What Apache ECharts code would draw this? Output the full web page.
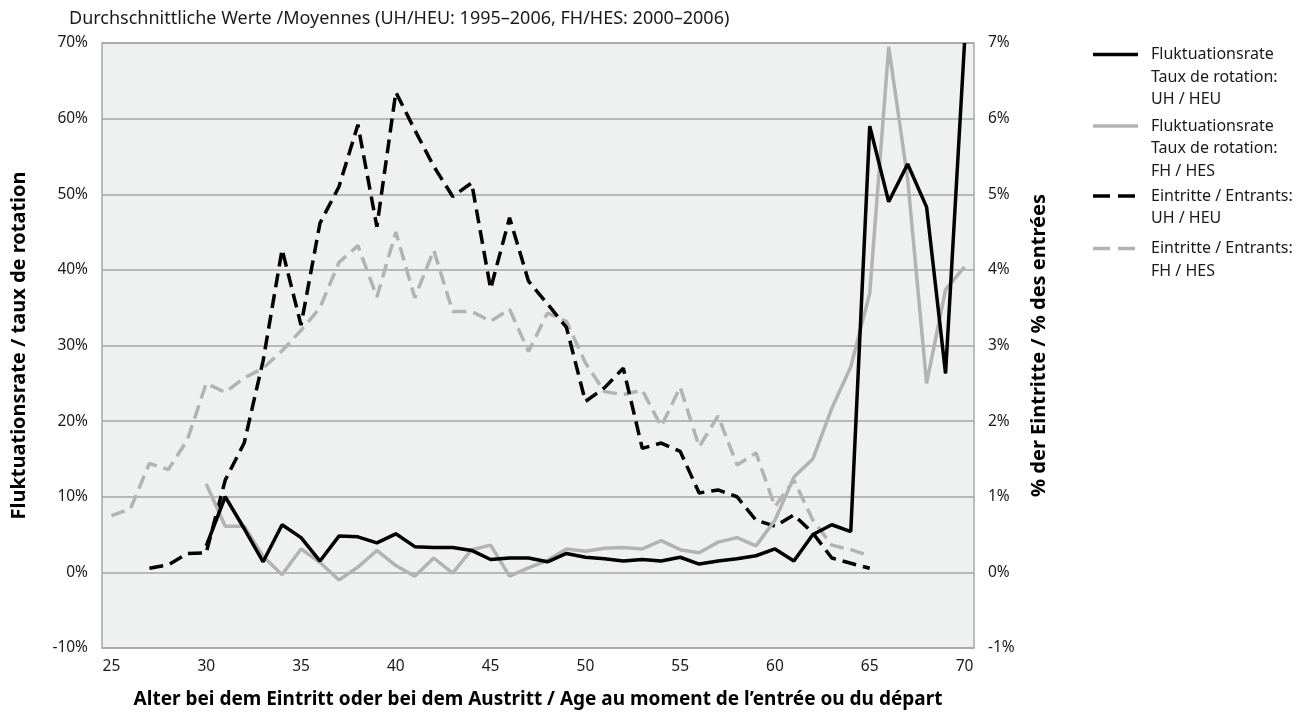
<!DOCTYPE html>
<html>
<head>
<meta charset="utf-8">
<script src="https://cdn.jsdelivr.net/npm/echarts@6/dist/echarts.min.js"></script>
<style>
  html, body { margin: 0; padding: 0; background: #fff; }
  #chart { width: 1304px; height: 722px; }
</style>
</head>
<body>
<div id="chart"></div>
<script>
// Alter (Kategorien)
const ages = ['25','26','27','28','29','30','31','32','33','34','35','36','37','38','39','40',
  '41','42','43','44','45','46','47','48','49','50','51','52','53','54','55','56','57','58','59','60',
  '61','62','63','64','65','66','67','68','69','70'];

// Fluktuationsrate UH / HEU (linke Achse, %)
const uhTurnover = [null, null, null, null, null,
  3.5, 10.0, 5.8, 1.4, 6.3, 4.6, 1.5, 4.8, 4.7, 3.9, 5.1,
  3.4, 3.3, 3.3, 2.9, 1.7, 1.9, 1.9, 1.4, 2.5, 2.0,
  1.8, 1.5, 1.7, 1.5, 2.0, 1.1, 1.5, 1.8, 2.2, 3.1,
  1.5, 5.0, 6.3, 5.4, 59.0, 49.0, 54.0, 48.3, 26.3, 70.0];

// Fluktuationsrate FH / HES (linke Achse, %)
const fhTurnover = [null, null, null, null, null,
  11.7, 6.1, 6.1, 2.1, -0.3, 3.1, 1.3, -1.0, 0.7, 2.9, 0.9,
  -0.5, 1.9, -0.1, 3.0, 3.6, -0.5, 0.6, 1.6, 3.1, 2.8,
  3.2, 3.3, 3.1, 4.2, 3.0, 2.6, 4.0, 4.6, 3.5, 6.9,
  12.6, 15.0, 21.7, 27.2, 36.9, 69.5, 52.0, 25.0, 37.4, 40.4];

// Eintritte UH / HEU (rechte Achse, %)
const uhEntrants = [null, null, 0.055, 0.10, 0.25,
  0.26, 1.22, 1.71, 2.80, 4.27, 3.27, 4.62, 5.10, 5.92, 4.57, 6.35,
  5.85, 5.37, 4.97, 5.15, 3.75, 4.69, 3.85, 3.55, 3.24, 2.26,
  2.44, 2.70, 1.64, 1.71, 1.60, 1.05, 1.09, 1.00, 0.69, 0.61,
  0.76, 0.52, 0.19, 0.12, 0.055, null, null, null, null, null];

// Eintritte FH / HES (rechte Achse, %)
const fhEntrants = [0.75, 0.84, 1.44, 1.36, 1.75,
  2.50, 2.38, 2.57, 2.70, 2.93, 3.20, 3.50, 4.10, 4.32, 3.64, 4.50,
  3.63, 4.26, 3.45, 3.45, 3.32, 3.48, 2.92, 3.43, 3.32, 2.77,
  2.39, 2.35, 2.41, 1.93, 2.45, 1.66, 2.07, 1.42, 1.58, 0.87,
  1.22, 0.69, 0.36, 0.30, 0.22, null, null, null, null, null];

const yLeftTicks = { min: -10, max: 70, step: 10 };
const yRightTicks = { min: -1, max: 7, step: 1 };

const names = [
  'Fluktuationsrate\nTaux de rotation:\nUH / HEU',
  'Fluktuationsrate\nTaux de rotation:\nFH / HES',
  'Eintritte / Entrants:\nUH / HEU',
  'Eintritte / Entrants:\nFH / HES'
];

const FONT = 'Noto Sans';
const LH = 22.5;
const GRAY = '#b3b3b3';
const DASH = [14, 7];

// Legende rechts: Linienmuster auf Höhe der ersten Textzeile
const legendRows = [
  { name: names[0], y: 54.5, color: '#000', dash: null },
  { name: names[1], y: 126, color: GRAY, dash: null },
  { name: names[2], y: 196, color: '#000', dash: [17, 8] },
  { name: names[3], y: 248.5, color: GRAY, dash: [17, 8] }
];
const legendGraphic = [];
legendRows.forEach(r => {
  legendGraphic.push({
    type: 'line', silent: true,
    shape: { x1: 1093, y1: r.y, x2: 1138, y2: r.y },
    style: { stroke: r.color, lineWidth: 3.5, lineDash: r.dash }
  });
  legendGraphic.push({
    type: 'text', silent: true,
    x: 1151, y: r.y - LH / 2,
    style: {
      text: r.name, fill: '#1a1a1a', font: '16px "' + FONT + '"',
      lineHeight: LH, verticalAlign: 'top', align: 'left'
    }
  });
});

const chart = echarts.init(document.getElementById('chart'));
const option = {
  backgroundColor: '#fff',
  animation: false,
  title: {
    text: 'Durchschnittliche Werte /Moyennes (UH/HEU: 1995–2006, FH/HES: 2000–2006)',
    left: 69, top: 10, padding: 0,
    textStyle: { fontFamily: FONT, fontSize: 18, fontWeight: 'normal', color: '#1a1a1a' }
  },
  graphic: legendGraphic,
  grid: {
    left: 102, right: 330, top: 43, bottom: 74,
    show: true, backgroundColor: '#eff0f0', borderColor: '#a6a6a6', borderWidth: 1.5
  },
  xAxis: {
    type: 'category',
    data: ages,
    boundaryGap: true,
    name: 'Alter bei dem Eintritt oder bei dem Austritt / Age au moment de l’entrée ou du départ',
    nameLocation: 'middle',
    nameGap: 42,
    nameTextStyle: { fontFamily: FONT, fontSize: 19, fontWeight: 'bold', color: '#000' },
    axisLine: { show: false },
    axisTick: { show: false },
    axisLabel: { interval: 4, margin: 11, fontFamily: FONT, fontSize: 15.5, color: '#1a1a1a' },
    splitLine: { show: false }
  },
  yAxis: [
    {
      type: 'value',
      min: yLeftTicks.min, max: yLeftTicks.max, interval: yLeftTicks.step,
      name: 'Fluktuationsrate / taux de rotation',
      nameLocation: 'middle',
      nameGap: 73,
      nameTextStyle: { fontFamily: FONT, fontSize: 20, fontWeight: 'bold', color: '#000' },
      axisLine: { show: false },
      axisTick: { show: false },
      axisLabel: { formatter: '{value}%', margin: 14, fontFamily: FONT, fontSize: 15.5, color: '#1a1a1a' },
      splitLine: { lineStyle: { color: '#a6a6a6', width: 1.5 } }
    },
    {
      type: 'value',
      min: yRightTicks.min, max: yRightTicks.max, interval: yRightTicks.step,
      name: '% der Eintritte / % des entrées',
      nameLocation: 'middle',
      nameGap: 55,
      nameTextStyle: { fontFamily: FONT, fontSize: 20, fontWeight: 'bold', color: '#000' },
      axisLine: { show: false },
      axisTick: { show: false },
      axisLabel: { formatter: '{value}%', margin: 14, fontFamily: FONT, fontSize: 15.5, color: '#1a1a1a' },
      splitLine: { show: false }
    }
  ],
  series: [
    {
      name: names[3], type: 'line', yAxisIndex: 1, data: fhEntrants,
      symbol: 'none', clip: false,
      lineStyle: { color: GRAY, width: 3.5, type: DASH }, itemStyle: { color: GRAY }
    },
    {
      name: names[2], type: 'line', yAxisIndex: 1, data: uhEntrants,
      symbol: 'none', clip: false,
      lineStyle: { color: '#000', width: 3.5, type: DASH }, itemStyle: { color: '#000' }
    },
    {
      name: names[1], type: 'line', yAxisIndex: 0, data: fhTurnover,
      symbol: 'none', clip: false,
      lineStyle: { color: GRAY, width: 3.5 }, itemStyle: { color: GRAY }
    },
    {
      name: names[0], type: 'line', yAxisIndex: 0, data: uhTurnover,
      symbol: 'none', clip: false,
      lineStyle: { color: '#000', width: 3.5 }, itemStyle: { color: '#000' }
    }
  ]
};
chart.setOption(option);
window.addEventListener('resize', () => chart.resize());
</script>
</body>
</html>
